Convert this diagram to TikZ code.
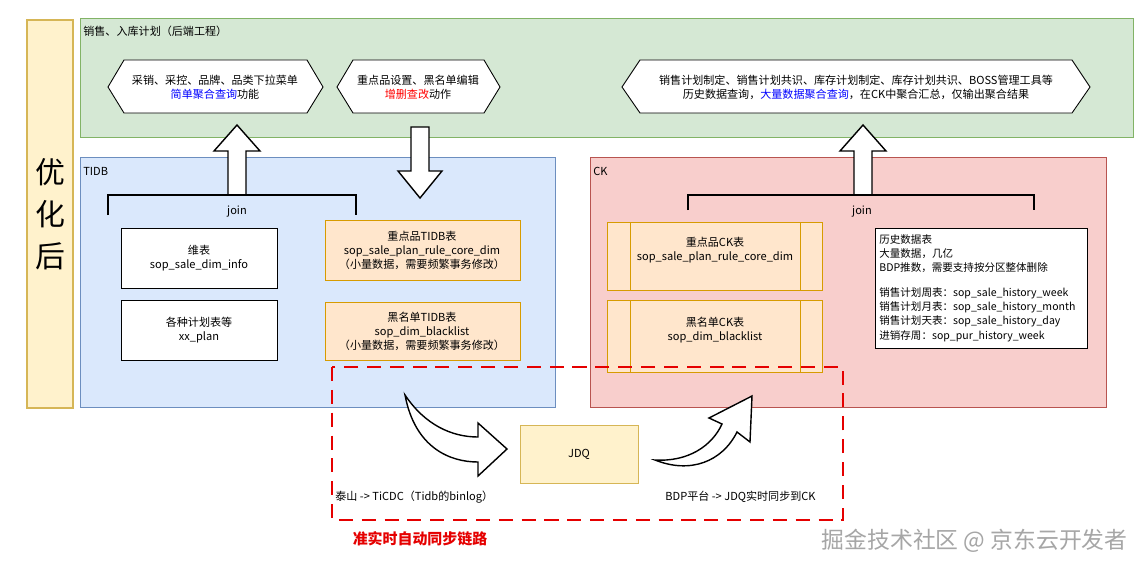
\documentclass[tikz,border=0pt]{standalone}
\usepackage{fontspec}
\setmainfont{Noto Sans CJK SC}
\definecolor{gF}{HTML}{D5E8D4}\definecolor{gD}{HTML}{82B366}
\definecolor{bF}{HTML}{DAE8FC}\definecolor{bD}{HTML}{6C8EBF}
\definecolor{rF}{HTML}{F8CECC}\definecolor{rD}{HTML}{B85450}
\definecolor{yF}{HTML}{FFF2CC}\definecolor{yD}{HTML}{D6B656}
\definecolor{oF}{HTML}{FFE6CC}\definecolor{oD}{HTML}{D79B00}
\begin{document}
\begin{tikzpicture}[x=0.02cm,y=-0.02cm,
  t/.style={font=\fontsize{6.3pt}{8pt}\selectfont,align=center,inner sep=0},
  hex/.style={draw=black,fill=white,line width=0.5pt},
  tb/.style={draw=black,fill=white,line width=0.5pt},
  ob/.style={draw=oD,fill=oF,line width=0.5pt},
  blk/.style={draw=black,fill=white,line width=0.8pt,line join=miter}]
\useasboundingbox (0,0) rectangle (1145,571);
\fill[white] (0,0) rectangle (1145,571);
% big containers
\draw[draw=yD,fill=yF,line width=0.8pt] (27,20) rectangle (73,408);
\node[font=\fontsize{17pt}{24pt}\selectfont,align=center] (opt) at (50,214) {优\\化\\后};
\draw[draw=gD,fill=gF,line width=0.5pt] (80,18) rectangle (1133,137);
\node[t,anchor=west] (lblg) at (83,31) {销售、入库计划（后端工程）};
\draw[draw=bD,fill=bF,line width=0.5pt] (80,157) rectangle (555,407);
\node[t,anchor=west] (lblt) at (83,171) {TIDB};
\draw[draw=rD,fill=rF,line width=0.5pt] (590,157) rectangle (1106,407);
\node[t,anchor=west] (lblc) at (593,171) {CK};
% hexagons
\draw[hex] (108,87)--(124,60)--(307,60)--(323,87)--(307,113)--(124,113)--cycle;
\node[t] (h1) at (215,87) {采销、采控、品牌、品类下拉菜单\\\textcolor{blue}{简单聚合查询}功能};
\draw[hex] (337,87)--(353,60)--(484,60)--(500,87)--(484,113)--(353,113)--cycle;
\node[t] (h2) at (418,87) {重点品设置、黑名单编辑\\\textcolor{red}{增删查改}动作};
\draw[hex] (622,87)--(640,60)--(1072,60)--(1090,87)--(1072,113)--(640,113)--cycle;
\node[t] (h3) at (856,87) {销售计划制定、销售计划共识、库存计划制定、库存计划共识、BOSS管理工具等\\历史数据查询，\textcolor{blue}{大量数据聚合查询}，在CK中聚合汇总，仅输出聚合结果};
% block arrows
\draw[blk] (228,195)--(228,151)--(214,151)--(237,125)--(260,151)--(246,151)--(246,195)--cycle;
\draw[blk] (411,127)--(411,171)--(398,171)--(420,198)--(442,171)--(429,171)--(429,127)--cycle;
\draw[blk] (854,195)--(854,151)--(840,151)--(863,125)--(886,151)--(872,151)--(872,195)--cycle;
% join brackets
\draw[line width=0.8pt] (108,215)--(108,195)--(356,195)--(356,215);
\node[t] (j1) at (237,212) {join};
\draw[line width=0.8pt] (688,210)--(688,195)--(1034,195)--(1034,210);
\node[t] (j2) at (862,212) {join};
% TIDB boxes
\draw[tb] (121,228) rectangle (277,288);
\node[t] (wb) at (199,258) {维表\\sop\_sale\_dim\_info};
\draw[tb] (121,300) rectangle (277,360);
\node[t] (jh) at (199,330) {各种计划表等\\xx\_plan};
\draw[ob] (325,220) rectangle (520,280);
\node[t] (zd) at (422,250) {重点品TIDB表\\sop\_sale\_plan\_rule\_core\_dim\\（小量数据，需要频繁事务修改）};
\draw[ob] (325,302) rectangle (520,360);
\node[t] (hm) at (422,331) {黑名单TIDB表\\sop\_dim\_blacklist\\（小量数据，需要频繁事务修改）};
% CK boxes
\draw[ob] (607,222) rectangle (822,290);
\draw[oD,line width=0.5pt] (630,222)--(630,290) (800,222)--(800,290);
\node[t] (ck1) at (715,250) {重点品CK表\\sop\_sale\_plan\_rule\_core\_dim};
\draw[ob] (607,300) rectangle (822,372);
\draw[oD,line width=0.5pt] (630,300)--(630,372) (800,300)--(800,372);
\node[t] (ck2) at (715,330) {黑名单CK表\\sop\_dim\_blacklist};
\draw[tb] (875,228) rectangle (1087,348);
\node[t,align=left,anchor=north west,font=\fontsize{6pt}{8.1pt}\selectfont] (hist) at (879,234) {历史数据表\\大量数据，几亿\\BDP推数，需要支持按分区整体删除\\[6pt]销售计划周表：sop\_sale\_history\_week\\销售计划月表：sop\_sale\_history\_month\\销售计划天表：sop\_sale\_history\_day\\进销存周：sop\_pur\_history\_week};
% sync link
\draw[red!90!black,dashed,dash pattern=on 8pt off 5pt,line width=1.2pt] (332,367) rectangle (843,520);
\node[t,text=red!90!black,font=\bfseries\fontsize{8.5pt}{10pt}\selectfont] (sl) at (420,539) {准实时自动同步链路};
\draw[draw=yD,fill=yF,line width=0.5pt] (520,425) rectangle (638,483);
\node[t] (jdq) at (579,454) {JDQ};
\draw[blk] (405,395) .. controls (415,448) and (450,462) .. (478,462) -- (478,476) -- (507,449) -- (478,423) -- (478,437) .. controls (452,437) and (425,425) .. (405,395) -- cycle;
\draw[blk] (655,460) .. controls (688,462) and (712,446) .. (722,424) -- (709,418) -- (752,396) -- (750,442) -- (737,432) .. controls (722,462) and (690,474) .. (655,460) -- cycle;
\node[t,anchor=west] (ts) at (335,497) {泰山 -> TiCDC（Tidb的binlog）};
\node[t,anchor=west] (bdp) at (665,497) {BDP平台 -> JDQ实时同步到CK};
\node[text=gray!70,font=\fontsize{13pt}{15pt}\selectfont,anchor=east,inner sep=0] (wm) at (1128,541) {掘金技术社区 @ 京东云开发者};
\end{tikzpicture}
\end{document}
